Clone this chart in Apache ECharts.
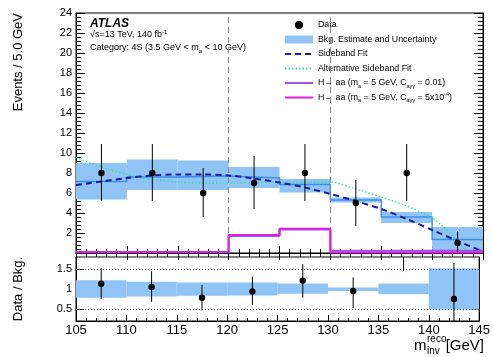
<!DOCTYPE html>
<html>
<head>
<meta charset="utf-8">
<script src="https://cdn.jsdelivr.net/npm/echarts@6/dist/echarts.min.js"></script>
<style>
html, body { margin: 0; padding: 0; background: #fff; }
#chart { width: 493px; height: 357px; }
</style>
</head>
<body>
<div id="chart"></div>
<script>
const FONT = '"Liberation Sans", Arial, Helvetica, sans-serif';

// 5 GeV bins from 105 to 145 GeV
const binEdges = [105, 110, 115, 120, 125, 130, 135, 140, 145];
const binCenters = [107.5, 112.5, 117.5, 122.5, 127.5, 132.5, 137.5, 142.5];

// observed events and their error bars
const dataCounts = [8, 8, 6, 7, 8, 5, 8, 1];
const dataLow = [5.2, 5.2, 3.6, 4.4, 5.2, 2.7, 5.2, 0.17];
const dataHigh = [10.9, 10.9, 8.5, 9.7, 10.9, 7.3, 10.9, 2.2];

// background estimate and uncertainty band
const bkgCentral = [7.15, 7.6, 7.7, 7.5, 6.85, 5.3, 3.6, 1.35];
const bkgLow = [5.35, 6.3, 6.3, 6.5, 6.05, 5.05, 3.0, 0.1];
const bkgHigh = [9.0, 9.35, 9.25, 8.6, 7.4, 5.55, 4.1, 2.6];

// sideband fits
const sidebandX = [105, 107.5, 110, 112.5, 115, 117.5, 120, 122.5, 125, 127.5, 130, 132.5, 135, 137.5, 140, 142.5, 145];
const sidebandY = [6.8, 7.15, 7.5, 7.75, 7.85, 7.85, 7.75, 7.45, 7.05, 6.55, 5.9, 5.2, 4.4, 3.4, 2.3, 1.2, 0.15];
const altX = [105, 107.5, 110, 112.5, 115, 117.5, 120, 122.5, 125, 127.5, 130, 132.5, 135, 137.5, 140, 141, 142, 143, 143.6];
const altY = [9.55, 8.6, 7.85, 7.35, 7.1, 7.0, 7.0, 7.05, 7.1, 7.1, 7.1, 6.4, 5.6, 4.7, 3.5, 2.7, 1.7, 0.6, 0];

// signal hypotheses (events per bin)
const signalA = [0.08, 0.08, 0.08, 1.7, 2.35, 0.22, 0.22, 0.22];
const signalB = [0.1, 0.1, 0.1, 1.8, 2.42, 0.05, 0.05, 0.05];

// signal region boundaries
const sidebandEdges = [120, 130];

// ratio panel
const ratioVal = [1.13, 1.05, 0.78, 0.94, 1.21, 0.95, 2.2, 0.75];
const ratioLow = [0.75, 0.68, 0.46, 0.6, 0.78, 0.52, 1.45, 0.13];
const ratioHigh = [1.52, 1.44, 1.1, 1.31, 1.62, 1.29, 3.0, 1.65];
const ratioBandLow = [0.78, 0.81, 0.83, 0.84, 0.88, 0.95, 0.87, 0.48];
const ratioBandHigh = [1.22, 1.18, 1.16, 1.16, 1.14, 1.04, 1.14, 1.52];
const ratioTicks = [0.5, 1, 1.5];
const ratioRefLines = [0.5, 1.5];

const BAND = '#8fc4f5';
const BKG_LINE = '#3d8fe6';

const legendLabels = {
    'Data': 'Data',
    'Bkg. Estimate and Uncertainty': 'Bkg. Estimate and Uncertainty',
    'Sideband Fit': 'Sideband Fit',
    'Alternative Sideband Fit': 'Alternative Sideband Fit',
    'sigA': 'H\u2192 aa (m{s|a} = 5 GeV, C{s|a\u03b3\u03b3} = 0.01)',
    'sigB': 'H\u2192 aa (m{s|a} = 5 GeV, C{s|a\u03b3\u03b3} = 5x10{u|-4})'
};

function bandRows(lo, hi) {
    return lo.map((v, i) => [binEdges[i], binEdges[i + 1], v, hi[i]]);
}
function stepRows(vals) {
    return binEdges.map((e, i) => [e, vals[Math.min(i, vals.length - 1)]]);
}
function pointRows(vals, lo, hi) {
    return vals.map((v, i) => [binCenters[i], v, lo[i], hi[i]]);
}

function renderBand(params, api) {
    const cs = params.coordSys;
    const p0 = api.coord([api.value(0), api.value(3)]);
    const p1 = api.coord([api.value(1), api.value(2)]);
    const top = Math.max(p0[1], cs.y);
    const bot = Math.min(p1[1], cs.y + cs.height);
    if (bot <= top) return null;
    return {
        type: 'rect',
        shape: { x: p0[0], y: top, width: p1[0] - p0[0], height: bot - top },
        style: { fill: api.visual('color') }
    };
}

function renderPoints(params, api) {
    const cs = params.coordSys;
    const x = api.value(0);
    const pc = api.coord([x, api.value(1)]);
    const pLo = api.coord([x, api.value(2)]);
    const pHi = api.coord([x, api.value(3)]);
    const top = Math.max(pHi[1], cs.y);
    const bot = Math.min(pLo[1], cs.y + cs.height);
    const kids = [];
    if (bot > top) {
        kids.push({ type: 'line', shape: { x1: pc[0], y1: top, x2: pc[0], y2: bot },
                    style: { stroke: '#000', lineWidth: 1 } });
    }
    if (pc[1] >= cs.y && pc[1] <= cs.y + cs.height) {
        kids.push({ type: 'circle', shape: { cx: pc[0], cy: pc[1], r: 3.2 },
                    style: { fill: '#000' } });
    }
    return { type: 'group', children: kids };
}

const tickInside = (len) => ({ show: true, inside: true, length: len, lineStyle: { color: '#000' } });
const minorInside = (len) => ({ show: true, splitNumber: 5, length: len, lineStyle: { color: '#000' } });
const lineOnly = { opacity: 0 };   // hide the symbol drawn on line legend icons

const option = {
    animation: false,
    backgroundColor: '#fff',
    grid: [
        { left: 76, top: 13, right: 10, height: 240, show: true, borderColor: '#000', borderWidth: 1 },
        { left: 76, top: 257, right: 10, height: 64, show: true, borderColor: '#000', borderWidth: 1 }
    ],
    xAxis: [
        { gridIndex: 0, type: 'value', min: 105, max: 145, interval: 5, position: 'bottom',
          axisLine: { lineStyle: { color: '#000' } }, axisLabel: { show: false },
          axisTick: tickInside(7), minorTick: minorInside(4), splitLine: { show: false } },
        { gridIndex: 0, type: 'value', min: 105, max: 145, interval: 5, position: 'top',
          axisLine: { lineStyle: { color: '#000' } }, axisLabel: { show: false },
          axisTick: tickInside(7), minorTick: minorInside(4), splitLine: { show: false } },
        { gridIndex: 1, type: 'value', min: 105, max: 145, interval: 5, position: 'bottom',
          axisLine: { lineStyle: { color: '#000' } },
          axisLabel: { color: '#000', fontFamily: FONT, fontSize: 13, margin: 3 },
          axisTick: tickInside(6), minorTick: minorInside(3), splitLine: { show: false } }
    ],
    yAxis: [
        { gridIndex: 0, type: 'value', min: 0, max: 24, interval: 2, position: 'left',
          axisLine: { show: true, lineStyle: { color: '#000' } },
          axisLabel: { color: '#000', fontFamily: FONT, fontSize: 11, margin: 4,
                       formatter: v => (v === 0 ? '' : v) },
          axisTick: tickInside(9), minorTick: minorInside(5), splitLine: { show: false } },
        { gridIndex: 0, type: 'value', min: 0, max: 24, interval: 2, position: 'right',
          axisLine: { show: true, lineStyle: { color: '#000' } }, axisLabel: { show: false },
          axisTick: tickInside(9), minorTick: minorInside(5), splitLine: { show: false } },
        { gridIndex: 1, type: 'value', min: 0.2, max: 1.8, position: 'left',
          axisLine: { show: true, lineStyle: { color: '#000' } },
          axisLabel: { color: '#000', fontFamily: FONT, fontSize: 11, margin: 4, customValues: ratioTicks },
          axisTick: Object.assign(tickInside(8), { customValues: ratioTicks }),
          splitLine: { show: false } },
        { gridIndex: 1, type: 'value', min: 0.2, max: 1.8, position: 'right',
          axisLine: { show: true, lineStyle: { color: '#000' } }, axisLabel: { show: false },
          axisTick: Object.assign(tickInside(8), { customValues: ratioTicks }),
          splitLine: { show: false } }
    ],
    legend: {
        orient: 'vertical', left: 279, top: 14, itemWidth: 28, itemHeight: 8, itemGap: 2.5,
        selectedMode: false,
        textStyle: {
            fontFamily: FONT, fontSize: 8.8, color: '#000', lineHeight: 12,
            rich: {
                s: { fontFamily: FONT, fontSize: 5.5, lineHeight: 6, verticalAlign: 'bottom', color: '#000' },
                u: { fontFamily: FONT, fontSize: 5.5, lineHeight: 6, verticalAlign: 'top', color: '#000' }
            }
        },
        formatter: n => legendLabels[n] || n,
        data: [
            { name: 'Data', icon: 'circle', itemStyle: { color: '#000' } },
            { name: 'Bkg. Estimate and Uncertainty', icon: 'rect', itemStyle: { color: BAND } },
            { name: 'Sideband Fit', itemStyle: lineOnly },
            { name: 'Alternative Sideband Fit', itemStyle: lineOnly },
            { name: 'sigA', itemStyle: lineOnly },
            { name: 'sigB', itemStyle: lineOnly }
        ]
    },
    graphic: [
        { type: 'text', x: 90, y: 24, style: { text: 'ATLAS', fontFamily: FONT, fontSize: 12,
          fontWeight: 'bold', fontStyle: 'italic', fill: '#000', verticalAlign: 'middle' } },
        { type: 'text', x: 90, y: 35, style: { text: '\u221as=13 TeV, 140 fb{u|-1}', fontFamily: FONT,
          fontSize: 9, fill: '#000', verticalAlign: 'middle', lineHeight: 12,
          rich: { u: { fontFamily: FONT, fontSize: 6, lineHeight: 6, verticalAlign: 'top' } } } },
        { type: 'text', x: 90, y: 48, style: { text: 'Category: 4S (3.5 GeV < m{s|a} < 10 GeV)', fontFamily: FONT,
          fontSize: 9, fill: '#000', verticalAlign: 'middle', lineHeight: 12,
          rich: { s: { fontFamily: FONT, fontSize: 6, lineHeight: 6, verticalAlign: 'bottom' } } } },
        { type: 'text', x: 18, y: 13, rotation: Math.PI / 2, style: { text: 'Events / 5.0 GeV',
          fontFamily: FONT, fontSize: 13, fill: '#000', align: 'right', verticalAlign: 'middle' } },
        { type: 'text', x: 18, y: 289, rotation: Math.PI / 2, style: { text: 'Data / Bkg.',
          fontFamily: FONT, fontSize: 13, fill: '#000', align: 'center', verticalAlign: 'middle' } },
        { type: 'text', x: 484, y: 346, style: { text: '[GeV]', fontFamily: FONT, fontSize: 15,
          fill: '#000', align: 'right', verticalAlign: 'middle' } },
        { type: 'text', x: 414, y: 346, style: { text: 'm', fontFamily: FONT, fontSize: 15,
          fill: '#000', align: 'left', verticalAlign: 'middle' } },
        { type: 'text', x: 427, y: 339, style: { text: 'reco', fontFamily: FONT, fontSize: 10,
          fill: '#000', align: 'left', verticalAlign: 'middle' } },
        { type: 'text', x: 427, y: 351, style: { text: 'inv', fontFamily: FONT, fontSize: 10,
          fill: '#000', align: 'left', verticalAlign: 'middle' } }
    ],
    series: [
        {
            name: 'Bkg. Estimate and Uncertainty', type: 'custom', xAxisIndex: 0, yAxisIndex: 0,
            renderItem: renderBand, itemStyle: { color: BAND },
            encode: { x: [0, 1], y: [2, 3] }, data: bandRows(bkgLow, bkgHigh), z: 1,
            markLine: {
                silent: true, symbol: 'none', label: { show: false },
                lineStyle: { color: '#8a8a8a', type: [6, 4], width: 1 },
                data: sidebandEdges.map(v => ({ xAxis: v }))
            }
        },
        {
            name: 'bkgCentral', type: 'line', xAxisIndex: 0, yAxisIndex: 0, step: 'end',
            showSymbol: false, symbol: 'none', lineStyle: { color: BKG_LINE, width: 1.5 },
            data: stepRows(bkgCentral), z: 2
        },
        {
            name: 'Alternative Sideband Fit', type: 'line', xAxisIndex: 0, yAxisIndex: 0, smooth: 0.3,
            showSymbol: false, symbol: 'none', itemStyle: { color: '#33e0a0' },
            lineStyle: { color: '#33e0a0', width: 1.3, type: [1.5, 2] },
            data: altX.map((x, i) => [x, altY[i]]), z: 3
        },
        {
            name: 'Sideband Fit', type: 'line', xAxisIndex: 0, yAxisIndex: 0, smooth: 0.3,
            showSymbol: false, symbol: 'none', itemStyle: { color: '#1c1c9c' },
            lineStyle: { color: '#1c1c9c', width: 2, type: [6, 4] },
            data: sidebandX.map((x, i) => [x, sidebandY[i]]), z: 4
        },
        {
            name: 'sigA', type: 'line', xAxisIndex: 0, yAxisIndex: 0, step: 'end',
            showSymbol: false, symbol: 'none', itemStyle: { color: '#a050f0' },
            lineStyle: { color: '#a050f0', width: 2 }, data: stepRows(signalA), z: 5
        },
        {
            name: 'sigB', type: 'line', xAxisIndex: 0, yAxisIndex: 0, step: 'end',
            showSymbol: false, symbol: 'none', itemStyle: { color: '#dc20dc' },
            lineStyle: { color: '#dc20dc', width: 2 }, data: stepRows(signalB), z: 6
        },
        {
            name: 'Data', type: 'custom', xAxisIndex: 0, yAxisIndex: 0,
            renderItem: renderPoints, itemStyle: { color: '#000' },
            encode: { x: 0, y: [1, 2, 3] }, data: pointRows(dataCounts, dataLow, dataHigh), z: 10
        },
        {
            name: 'ratioBand', type: 'custom', xAxisIndex: 2, yAxisIndex: 2,
            renderItem: renderBand, itemStyle: { color: BAND },
            encode: { x: [0, 1], y: [2, 3] }, data: bandRows(ratioBandLow, ratioBandHigh), z: 2,
            markLine: {
                silent: true, symbol: 'none', label: { show: false },
                lineStyle: { color: '#555', type: [1, 2], width: 1 },
                data: ratioRefLines.map(v => ({ yAxis: v }))
            }
        },
        {
            name: 'ratioData', type: 'custom', xAxisIndex: 2, yAxisIndex: 2,
            renderItem: renderPoints, itemStyle: { color: '#000' },
            encode: { x: 0, y: [1, 2, 3] }, data: pointRows(ratioVal, ratioLow, ratioHigh), z: 10
        }
    ]
};

const chart = echarts.init(document.getElementById('chart'));
chart.setOption(option);
</script>
</body>
</html>
